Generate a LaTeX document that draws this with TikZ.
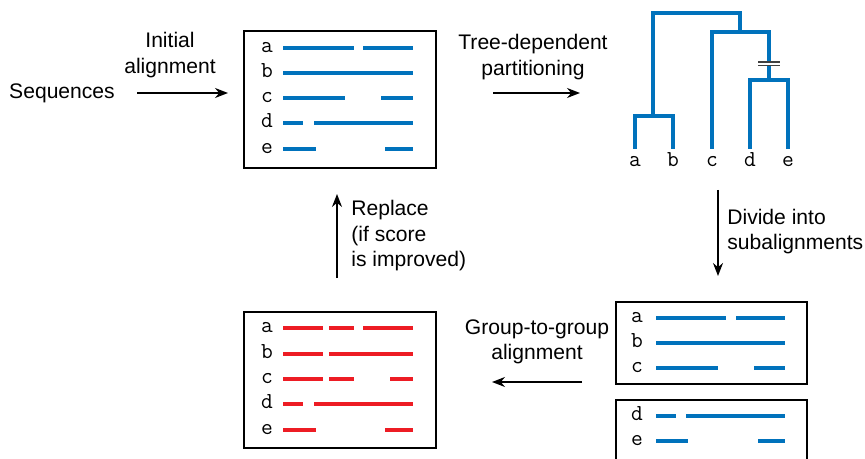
\documentclass[tikz,border=0pt]{standalone}
\usepackage{fontspec}
\setmainfont{Liberation Sans}
\usetikzlibrary{arrows.meta, positioning}
\definecolor{aln-blue}{RGB}{0, 114, 188}
\definecolor{aln-red}{RGB}{237, 28, 36}

\begin{document}
\begin{tikzpicture}[
  x=0.02cm, y=-0.02cm,
  txt/.style={font=\fontsize{12}{14.5}\selectfont, align=center, inner sep=0pt},
  seqname/.style={font=\ttfamily\fontsize{13}{14}\selectfont, inner sep=0pt, anchor=base},
  alnbox/.style={draw, line width=1pt, inner sep=0pt},
  gapblue/.style={aln-blue, line width=2.3pt},
  gapred/.style={aln-red, line width=2.3pt},
  branch/.style={aln-blue, line width=2.3pt},
  flow/.style={-{Stealth[length=2.6mm, width=2mm]}, line width=0.8pt}
]
  \useasboundingbox (0,0) rectangle (865,459);

  % boxes
  \node[alnbox, minimum width=3.84cm, minimum height=2.74cm] (init) at (340,99.5) {};
  \node[alnbox, minimum width=3.84cm, minimum height=2.72cm] (final) at (340,380) {};
  \node[alnbox, minimum width=3.82cm, minimum height=1.64cm] (subA) at (711.5,343) {};
  \draw[line width=1pt] (616,462) -- (616,400) -- (807,400) -- (807,462);

  % initial alignment
  \foreach \name/\y in {a/48, b/73, c/98, d/123, e/149}
    \node[seqname] (init-\name) at (267,\y+4.5) {\name};
  \foreach \y/\xa/\xb in {48/283/354, 48/363/413, 73/283/413, 98/283/345, 98/381/413,
                          123/283/303, 123/314/413, 149/283/316, 149/385/413}
    \draw[gapblue] (\xa,\y) -- (\xb,\y);

  % refined alignment
  \foreach \name/\y in {a/328, b/354, c/379, d/404, e/430}
    \node[seqname] (final-\name) at (267,\y+4.5) {\name};
  \foreach \y/\xa/\xb in {328/283/323, 328/329/354, 328/363/413, 354/283/323, 354/329/413,
                          379/283/323, 379/329/354, 379/390/413,
                          404/283/303, 404/314/413, 430/283/316, 430/385/413}
    \draw[gapred] (\xa,\y) -- (\xb,\y);

  % subalignments
  \foreach \name/\y in {a/318, b/343, c/368, d/416, e/441}
    \node[seqname] (sub-\name) at (637,\y+4.5) {\name};
  \foreach \y/\xa/\xb in {318/656/726, 318/736/785, 343/656/785, 368/656/718, 368/754/785,
                          416/656/676, 416/686/785, 441/656/688, 441/758/785}
    \draw[gapblue] (\xa,\y) -- (\xb,\y);

  % guide tree
  \foreach \name/\x in {a/635, b/673, c/712, d/750, e/788}
    \node[seqname] (leaf-\name) at (\x,167) {\name};
  \draw[branch] (635,149) -- (635,116) -- (673,116) -- (673,149);
  \draw[branch] (653,116) -- (653,13) -- (740,13) -- (740,32);
  \draw[branch] (712,149) -- (712,32) -- (769,32) -- (769,80);
  \draw[branch] (750,149) -- (750,80) -- (788,80) -- (788,149);
  \fill[white] (758,62) rectangle (780,65);
  \draw[black!75, line width=0.7pt] (758,62) -- (780,62) (758,65.5) -- (780,65.5);

  % labels
  \node[txt] (seq) at (62,93) {Sequences};
  \node[txt] (initlab) at (170,55) {Initial\\alignment};
  \node[txt] (treelab) at (533,57) {Tree-dependent\\partitioning};
  \node[txt, align=left, anchor=west] (divlab) at (727,231.5) {Divide into\\subalignments};
  \node[txt, align=left, anchor=west] (replab) at (351,236) {Replace\\(if score\\is improved)};
  \node[txt] (grouplab) at (537,342) {Group-to-group\\alignment};

  % arrows
  \coordinate (seq-out) at (137,93);
  \coordinate (init-in) at (228,93);
  \coordinate (tree-from) at (493,93);
  \coordinate (tree-to) at (580,93);
  \coordinate (div-from) at (718,190);
  \coordinate (div-to) at (718,276);
  \coordinate (grp-from) at (582,382);
  \coordinate (grp-to) at (492,382);
  \coordinate (rep-from) at (337,278);
  \coordinate (rep-to) at (337,194);
  \draw[flow] (seq-out) -- (init-in);
  \draw[flow] (tree-from) -- (tree-to);
  \draw[flow] (div-from) -- (div-to);
  \draw[flow] (grp-from) -- (grp-to);
  \draw[flow] (rep-from) -- (rep-to);
\end{tikzpicture}
\end{document}
